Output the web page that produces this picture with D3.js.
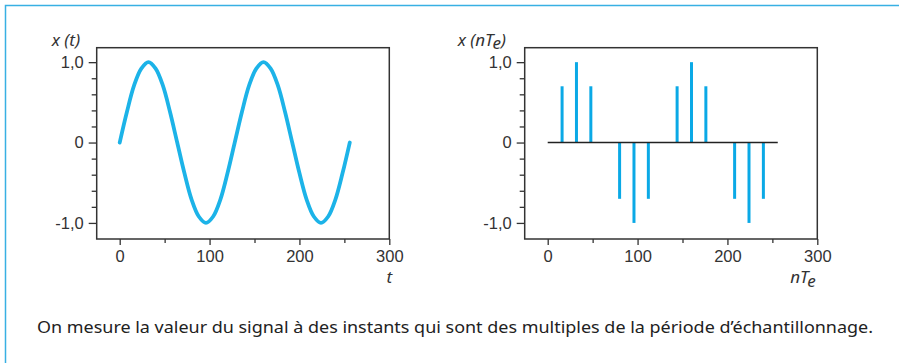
<!DOCTYPE html>
<html>
<head>
<meta charset="utf-8">
<script src="https://cdn.jsdelivr.net/npm/d3@7"></script>
<style>
  body { margin: 0; background: #fff; }
  svg { display: block; }
</style>
</head>
<body>
<svg id="chart" width="899" height="363"></svg>
<script>
// continuous signal x(t), every 8 units of t
const tValues = [0, 8, 16, 24, 32, 40, 48, 56, 64, 72, 80, 88, 96, 104, 112, 120, 128,
  136, 144, 152, 160, 168, 176, 184, 192, 200, 208, 216, 224, 232, 240, 248, 256];
const xValues = [0, 0.38, 0.71, 0.92, 1, 0.92, 0.71, 0.38, 0, -0.38, -0.71, -0.92, -1, -0.92, -0.71, -0.38, 0,
  0.38, 0.71, 0.92, 1, 0.92, 0.71, 0.38, 0, -0.38, -0.71, -0.92, -1, -0.92, -0.71, -0.38, 0];

// samples x(nTe), right plot
const nTe = [16, 32, 48, 64, 80, 96, 112, 128, 144, 160, 176, 192, 208, 224, 240, 256];
const sampleValues = [0.7, 1, 0.7, 0, -0.7, -1, -0.7, 0, 0.7, 1, 0.7, 0, -0.7, -1, -0.7, 0];

// ticks
const xMajorTicks = [0, 100, 200, 300];
const xMinorTicks = [50, 150, 250];
const yMajorTicks = [-1, 0, 1];
const yMinorTicks = [-0.8, -0.6, -0.4, -0.2, 0.2, 0.4, 0.6, 0.8];

const caption = "On mesure la valeur du signal à des instants qui sont des multiples de la période d’échantillonnage.";

const blue = "#1cb3e8";
const axisColor = "#333";

const svg = d3.select("#chart");

// frame around the figure (top and left only)
svg.append("path")
  .attr("d", "M5.5,363 L5.5,5.5 L899,5.5")
  .attr("fill", "none")
  .attr("stroke", "#38b0e3")
  .attr("stroke-width", 1.5);

const fmt = d => d === 0 ? "0" : d3.format(".1f")(d).replace(".", ",").replace("−", "-");

const makePanel = (left, yLabel, xLabel) => {
  const box = { x0: left, x1: left + 292.6, y0: 47.7, y1: 239 };

  const xScale = d3.scaleLinear().domain([-25.6, 300]).range([box.x0, box.x1]);
  const yScale = d3.scaleLinear().domain([-1.2, 1.18]).range([box.y1, box.y0]);

  const g = svg.append("g")
    .attr("font-family", "'Noto Sans', sans-serif");

  // axes
  const styleAxis = a => {
    a.select(".domain").remove();
    a.selectAll("line").attr("stroke", axisColor).attr("stroke-width", 1.3);
    a.selectAll("text").attr("fill", axisColor).style("font-size", "16.5px");
  };

  g.append("g")
    .attr("transform", `translate(${box.x0},0)`)
    .call(d3.axisLeft(yScale).tickValues(yMinorTicks).tickSize(5).tickFormat(""))
    .call(styleAxis);
  g.append("g")
    .attr("transform", `translate(${box.x0},0)`)
    .call(d3.axisLeft(yScale).tickValues(yMajorTicks).tickSize(8).tickPadding(5).tickFormat(fmt))
    .call(styleAxis);

  g.append("g")
    .attr("transform", `translate(0,${box.y1})`)
    .call(d3.axisBottom(xScale).tickValues(xMinorTicks).tickSize(4).tickFormat(""))
    .call(styleAxis);
  g.append("g")
    .attr("transform", `translate(0,${box.y1})`)
    .call(d3.axisBottom(xScale).tickValues(xMajorTicks).tickSize(6).tickPadding(5).tickFormat(d3.format("d")))
    .call(styleAxis);

  // plot frame
  g.append("rect")
    .attr("x", box.x0)
    .attr("y", box.y0)
    .attr("width", box.x1 - box.x0)
    .attr("height", box.y1 - box.y0)
    .attr("fill", "none")
    .attr("stroke", axisColor)
    .attr("stroke-width", 1.5);

  // y label
  const yl = g.append("text")
    .attr("x", box.x0 - 45)
    .attr("y", 46)
    .attr("fill", axisColor)
    .style("font-size", "17px")
    .style("font-style", "italic");
  yLabel(yl);

  // x label
  const xl = g.append("text")
    .attr("x", box.x1)
    .attr("y", 283)
    .attr("text-anchor", "middle")
    .attr("fill", axisColor)
    .style("font-size", "17px")
    .style("font-style", "italic");
  xLabel(xl);

  return { g, xScale, yScale };
};

// left panel: continuous signal
const leftPanel = makePanel(96.7,
  t => t.text("x (t)"),
  t => t.text("t"));

const sineLine = d3.line()
  .x((d, i) => leftPanel.xScale(tValues[i]))
  .y(d => leftPanel.yScale(d))
  .curve(d3.curveCatmullRom.alpha(0.5));

leftPanel.g.append("path")
  .datum(xValues)
  .attr("d", sineLine)
  .attr("fill", "none")
  .attr("stroke", blue)
  .attr("stroke-width", 3.8)
  .attr("stroke-linecap", "round");

// right panel: sampled signal
const rightPanel = makePanel(524.7,
  t => {
    t.attr("x", 524.7 - 67);
    t.append("tspan").text("x (nT");
    t.append("tspan").attr("dy", 3).text("e");
    t.append("tspan").attr("dy", -3).text(")");
  },
  t => {
    t.attr("x", 803);
    t.append("tspan").text("nT");
    t.append("tspan").attr("dy", 4).text("e");
  });

rightPanel.g.selectAll("line.stem")
  .data(sampleValues)
  .join("line")
  .attr("class", "stem")
  .attr("x1", (d, i) => rightPanel.xScale(nTe[i]))
  .attr("x2", (d, i) => rightPanel.xScale(nTe[i]))
  .attr("y1", rightPanel.yScale(0))
  .attr("y2", d => rightPanel.yScale(d))
  .attr("stroke", "#0aa9e6")
  .attr("stroke-width", 3);

rightPanel.g.append("line")
  .attr("x1", rightPanel.xScale(0))
  .attr("x2", rightPanel.xScale(256))
  .attr("y1", rightPanel.yScale(0))
  .attr("y2", rightPanel.yScale(0))
  .attr("stroke", "#222")
  .attr("stroke-width", 1.5);

// caption
svg.append("text")
  .attr("x", 37)
  .attr("y", 333)
  .attr("fill", "#222")
  .attr("textLength", 836)
  .attr("lengthAdjust", "spacingAndGlyphs")
  .style("font-family", "'Noto Sans', sans-serif")
  .style("font-size", "16px")
  .text(caption);
</script>
</body>
</html>
